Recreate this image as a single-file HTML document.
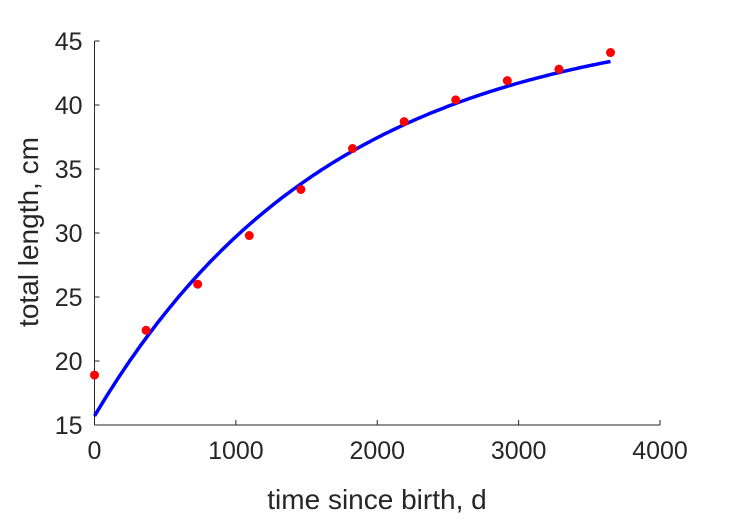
<!DOCTYPE html>
<html><head><meta charset="utf-8"><style>
body{margin:0;background:#fff}
svg text{font-family:"Liberation Sans",sans-serif;fill:#262626}
</style></head><body>
<svg id="chart" width="729" height="521">
<g id="axes"></g>
<path id="curve" fill="none" stroke="#0000ff" stroke-width="3.5"/>
<g id="pts"></g>
<text x="377" y="509" font-size="28" text-anchor="middle">time since birth, d</text>
<text transform="translate(38,232) rotate(-90)" font-size="28" text-anchor="middle">total length, cm</text>
</svg>
<script>
const obsDays=[0,365,730,1095,1460,1825,2190,2555,2920,3285,3650];
const obsLen=[18.9,22.4,26.0,29.8,33.4,36.6,38.7,40.4,41.9,42.8,44.1];
const fitParams=[46.98,15.7,0.000594];
const xTicks=[0,1000,2000,3000,4000];
const yTicks=[15,20,25,30,35,40,45];
const X0=94.5,X1=660,Y0=425,Y1=41;
const sx=v=>X0+(v-0)/4000*(X1-X0);
const sy=v=>Y0-(v-15)/30*(Y0-Y1);
const NS="http://www.w3.org/2000/svg";
const ax=document.getElementById('axes');
function mk(t,a,p){const e=document.createElementNS(NS,t);for(const k in a)e.setAttribute(k,a[k]);p.appendChild(e);return e;}
const xl=mk('line',{x1:X0,y1:Y0,x2:X1,y2:Y0,stroke:'#262626','stroke-width':1},ax);


const yl=mk('line',{x1:X0,y1:Y0,x2:X0,y2:Y1,stroke:'#262626','stroke-width':1},ax);


xTicks.forEach(v=>{const x=sx(v);
mk('line',{x1:x,y1:Y0,x2:x,y2:Y0-5,stroke:'#262626'},ax);
const t=mk('text',{x:x,y:Y0+34,'font-size':25,'text-anchor':'middle'},ax);t.textContent=v;

});
yTicks.forEach(v=>{const y=sy(v);
mk('line',{x1:X0,y1:y,x2:X0+5,y2:y,stroke:'#262626'},ax);
const t=mk('text',{x:X0-12,y:y+9,'font-size':25,'text-anchor':'end'},ax);t.textContent=v;

});
const [Linf,L0,k]=fitParams;
let d='';for(let t=0;t<=3650;t+=25){const L=Linf-(Linf-L0)*Math.exp(-k*t);d+=(t?'L':'M')+sx(t).toFixed(1)+','+sy(L).toFixed(1);}
document.getElementById('curve').setAttribute('d',d);
const g=document.getElementById('pts');
obsDays.forEach((t,i)=>{const c=mk('circle',{cx:sx(t),cy:sy(obsLen[i]),r:4.5,fill:'#ff0000'},g);

});
</script>
</body></html>
